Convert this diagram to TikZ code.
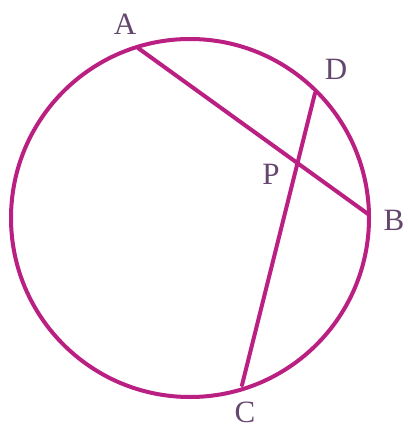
\documentclass[tikz,border=0pt]{standalone}
\usepackage{fontspec}
\setmainfont{Liberation Serif}
\usepackage{xcolor}
\usepackage{tikz}

\definecolor{chordpink}{RGB}{185,32,130}
\definecolor{labelgray}{RGB}{100,70,110}

\begin{document}
\begin{tikzpicture}[x=1pt, y=-1pt, thick]
    \tikzstyle{chord} = [draw=chordpink, line width=4pt, line cap=round]
    \tikzstyle{ptlabel} = [text=labelgray, font=\fontsize{31}{34}\selectfont, inner sep=0pt]

    \useasboundingbox (0,0) rectangle (407,435);

    \coordinate (O) at (190,218);
    \coordinate (A) at (138,48);
    \coordinate (D) at (315,93);
    \coordinate (B) at (368,214);
    \coordinate (C) at (242,385);
    \coordinate (P) at (intersection of A--B and D--C);

    \draw [chord] (O) circle [radius=179pt];
    \path [chord] (A) -- (B);
    \path [chord] (D) -- (C);

    \node [ptlabel] (labA) at (125,24) {A};
    \node [ptlabel] (labD) at (336,69) {D};
    \node [ptlabel] (labP) at (271,174) {P};
    \node [ptlabel] (labB) at (394,220) {B};
    \node [ptlabel] (labC) at (245,412) {C};
\end{tikzpicture}
\end{document}
